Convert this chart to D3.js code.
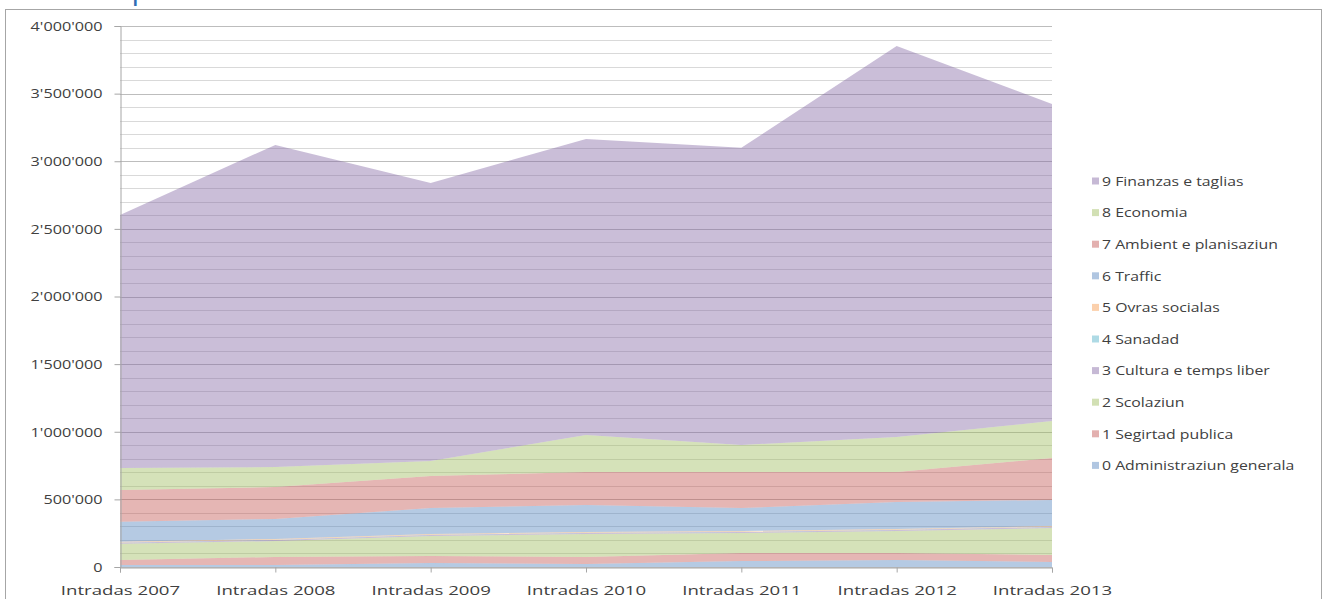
<!DOCTYPE html>
<html>
<head>
<meta charset="utf-8">
<script src="https://cdn.jsdelivr.net/npm/d3@7"></script>
<style>
  body { margin: 0; background: #ffffff; }
  svg { display: block; }
</style>
</head>
<body>
<div id="chart"></div>
<script>
// *****************************************************************************
// data
// *****************************************************************************

var years = ["Intradas 2007", "Intradas 2008", "Intradas 2009", "Intradas 2010",
  "Intradas 2011", "Intradas 2012", "Intradas 2013"];

var seriesNames = ["0 Administraziun generala", "1 Segirtad publica", "2 Scolaziun",
  "3 Cultura e temps liber", "4 Sanadad", "5 Ovras socialas", "6 Traffic",
  "7 Ambient e planisaziun", "8 Economia", "9 Finanzas e taglias"];

var administraziun = [15000, 15000, 30000, 22000, 44000, 52000, 37000];
var segirtad = [37000, 59000, 51000, 52000, 60000, 52000, 52000];
var scolaziun = [120000, 118000, 148000, 170000, 147000, 162000, 199000];
var cultura = [8000, 8000, 8000, 8000, 8000, 8000, 8000];
var sanadad = [2000, 2000, 2000, 2000, 2000, 2000, 2000];
var ovras = [5000, 5000, 5000, 5000, 5000, 5000, 5000];
var traffic = [148000, 148000, 192000, 200000, 170000, 200000, 193000];
var ambient = [234000, 236000, 237000, 244000, 267000, 222000, 310000];
var economia = [163000, 148000, 111000, 273000, 199000, 258000, 274000];
var finanzas = [1871000, 2382000, 2056000, 2189000, 2197000, 2892000, 2344000];

var yTicks = [0, 500000, 1000000, 1500000, 2000000, 2500000, 3000000, 3500000, 4000000];

var seriesValues = [administraziun, segirtad, scolaziun, cultura, sanadad, ovras,
  traffic, ambient, economia, finanzas];

// excel 2007 palette, drawn see-through
var colors = ["#4F81BD", "#C0504D", "#9BBB59", "#8064A2", "#4BACC6", "#F79646",
  "#4F81BD", "#C0504D", "#9BBB59", "#8064A2"];

// *****************************************************************************
// svg
// *****************************************************************************

var width = 1325,
  height = 599;

var svg = d3
  .select("#chart")
  .append("svg")
  .attr("width", width)
  .attr("height", height);

svg.append("rect").attr("width", width).attr("height", height).attr("fill", "white");

// title, mostly cut off by the top edge of the picture
svg
  .append("text")
  .attr("x", 8)
  .attr("y", -1)
  .style("font-family", "'Open Sans', sans-serif")
  .style("font-size", "30px")
  .style("fill", "#2e6db4")
  .text("Intradas per funcziun 2007 - 2013");

// chart border
svg
  .append("rect")
  .attr("x", 5.5)
  .attr("y", 9.5)
  .attr("width", 1316)
  .attr("height", 600)
  .attr("fill", "white")
  .attr("stroke", "#a6a6a6")
  .attr("stroke-width", 1);

// *****************************************************************************
// scales
// *****************************************************************************

var x = d3.scalePoint().domain(years).range([120, 1052]);
var y = d3.scaleLinear().domain([0, 4000000]).range([567, 26]);

// *****************************************************************************
// gridlines
// *****************************************************************************

var minorTicks = d3.range(0, 4000001, 100000);

svg
  .append("g")
  .selectAll("line")
  .data(minorTicks)
  .enter()
  .append("line")
  .attr("x1", 120)
  .attr("x2", 1052)
  .attr("y1", function (d) { return Math.round(y(d)) + 0.5; })
  .attr("y2", function (d) { return Math.round(y(d)) + 0.5; })
  .attr("stroke", function (d) { return d % 500000 == 0 ? "#bdbdbd" : "#d9d9d9"; })
  .attr("stroke-width", 1);

// *****************************************************************************
// stacked areas
// *****************************************************************************

var rows = years.map(function (yr, i) {
  var row = { year: yr };
  seriesNames.forEach(function (name, k) {
    row[name] = seriesValues[k][i];
  });
  return row;
});

var stack = d3.stack().keys(seriesNames);
var layers = stack(rows);

var area = d3
  .area()
  .x(function (d) { return x(d.data.year); })
  .y0(function (d) { return y(d[0]); })
  .y1(function (d) { return y(d[1]); });

svg
  .append("g")
  .selectAll("path")
  .data(layers)
  .enter()
  .append("path")
  .attr("d", area)
  .attr("fill", function (d, i) { return colors[i]; })
  .attr("fill-opacity", 0.42)
  .attr("stroke", "none");

// *****************************************************************************
// axes
// *****************************************************************************

var fmt = function (d) {
  return d3.format(",")(d).replace(/,/g, "'");
};

var yAxis = svg
  .append("g")
  .attr("transform", "translate(120.5,0)")
  .call(d3.axisLeft(y).tickValues(yTicks).tickSize(6).tickPadding(12).tickFormat(fmt));

var xAxis = svg
  .append("g")
  .attr("transform", "translate(0,567.5)")
  .call(d3.axisBottom(x).tickSize(5).tickPadding(13));

[yAxis, xAxis].forEach(function (ax) {
  ax.select(".domain").attr("stroke", "#a6a6a6");
  ax.selectAll(".tick line").attr("stroke", "#a6a6a6");
  ax.selectAll("text")
    .style("font-family", "'Open Sans', sans-serif")
    .style("font-size", "13.5px")
    .style("fill", "#404040");
});

// *****************************************************************************
// legend
// *****************************************************************************

var legendItems = seriesNames.slice().reverse();

var legend = svg
  .append("g")
  .selectAll("g")
  .data(legendItems)
  .enter()
  .append("g")
  .attr("transform", function (d, i) {
    return "translate(1092," + (181 + i * 31.6) + ")";
  });

legend
  .append("rect")
  .attr("x", 0)
  .attr("y", -3.5)
  .attr("width", 7)
  .attr("height", 7)
  .attr("fill", function (d) { return colors[seriesNames.indexOf(d)]; })
  .attr("fill-opacity", 0.45);

var legendText = legend
  .append("text")
  .attr("x", 10)
  .attr("y", 0)
  .attr("dy", "0.35em")
  .style("font-family", "'Open Sans', sans-serif")
  .style("font-size", "13.5px")
  .style("fill", "#404040")
  .text(function (d) { return d; });

// *****************************************************************************
// the reference picture is stretched sideways, so widen the texts a bit
// *****************************************************************************

function stretch(sel, factor) {
  sel.each(function () {
    var len = this.getComputedTextLength();
    d3.select(this)
      .attr("textLength", len * factor)
      .attr("lengthAdjust", "spacingAndGlyphs");
  });
}

stretch(xAxis.selectAll("text"), 1.38);
stretch(yAxis.selectAll("text"), 1.2);
stretch(legendText, 1.17);
</script>
</body>
</html>
